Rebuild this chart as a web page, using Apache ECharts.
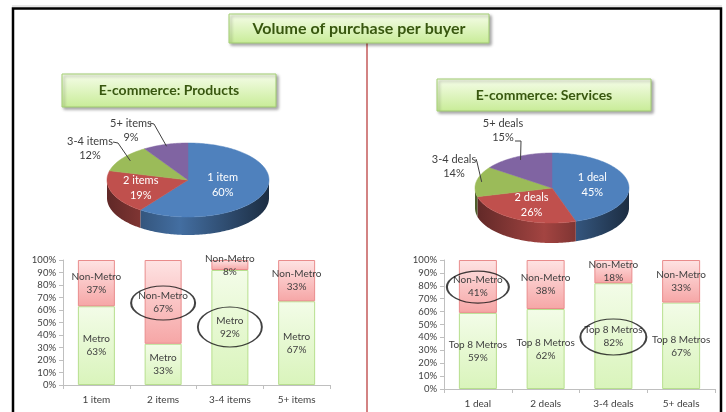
<!DOCTYPE html>
<html><head><meta charset="utf-8">
<script src="https://cdn.jsdelivr.net/npm/echarts@6/dist/echarts.min.js"></script>
<style>html,body{margin:0;padding:0;background:#fff}#c{width:726px;height:412px}</style>
</head><body><div id="c"></div>
<script>
// ---------- data ----------
const productCats = ['1 item', '2 items', '3-4 items', '5+ items'];
const productShare = [60, 19, 12, 9];
const productMetro = [63, 33, 92, 67];
const productNonMetro = [37, 67, 8, 33];
const productCircled = [['2 items', 65.6], ['3-4 items', 46.4]];

const serviceCats = ['1 deal', '2 deals', '3-4 deals', '5+ deals'];
const serviceShare = [45, 26, 14, 15];
const serviceMetro = [59, 62, 82, 67];
const serviceNonMetro = [41, 38, 18, 33];
const serviceCircled = [['1 deal', 79], ['3-4 deals', 40.3]];

const titleMain = 'Volume of purchase per buyer';
const titleProducts = 'E-commerce: Products';
const titleServices = 'E-commerce: Services';

// ---------- styles ----------
const FONT = 'Lato, "Open Sans", sans-serif';
const TXT = '#404040';
const pieColors = ['#4f81bd', '#c0504d', '#9bbb59', '#8064a2'];

function shade(hex, f) {
  const n = parseInt(hex.slice(1), 16);
  const r = Math.round(((n >> 16) & 255) * f), g = Math.round(((n >> 8) & 255) * f), b = Math.round((n & 255) * f);
  return 'rgb(' + r + ',' + g + ',' + b + ')';
}

function pie3D(cats, vals, g) {
  const total = vals.reduce((a, b) => a + b, 0);
  const starts = []; let acc = 0;
  vals.forEach(v => { starts.push(acc); acc += v; });
  return {
    type: 'custom', coordinateSystem: 'none', silent: true,
    data: vals.map((v, i) => [v, starts[i]]),
    renderItem(params, api) {
      const i = params.dataIndex, v = api.value(0), s = api.value(1);
      const a1 = s / total * 2 * Math.PI, a2 = (s + v) / total * 2 * Math.PI;
      const pt = (a, f, dy) => [g.cx + g.rx * f * Math.sin(a), g.cy - g.ry * f * Math.cos(a) + (dy || 0)];
      const arc = (from, to, dy) => {
        const n = Math.max(2, Math.ceil((to - from) / 0.02)); const out = [];
        for (let k = 0; k <= n; k++) out.push(pt(from + (to - from) * k / n, 1, dy));
        return out;
      };
      const base = pieColors[i];
      const children = [];
      const lo = Math.max(a1, Math.PI / 2), hi = Math.min(a2, 1.5 * Math.PI);
      if (hi > lo) {
        const top = arc(lo, hi, 0), bot = arc(lo, hi, g.h).reverse();
        children.push({
          type: 'polygon', shape: { points: top.concat(bot) },
          style: {
            fill: new echarts.graphic.LinearGradient(g.cx - g.rx, 0, g.cx + g.rx, 0, [
              { offset: 0, color: shade(base, 0.5) }, { offset: 0.45, color: shade(base, 0.85) },
              { offset: 1, color: shade(base, 0.35) }], true),
            stroke: null
          }
        });
      }
      children.push({
        type: 'polygon', shape: { points: [[g.cx, g.cy]].concat(arc(a1, a2, 0)) },
        style: { fill: base, stroke: base, lineWidth: 0.5 }
      });
      const lab = g.labels[i];
      const mid = (a1 + a2) / 2;
      const text = cats[i] + '\n' + v + '%';
      if (lab.inside) {
        const p = pt(mid, lab.f, 0);
        children.push({ type: 'text', style: { text, x: p[0], y: p[1], fill: '#fff', fontSize: 11, fontFamily: FONT, align: 'center', verticalAlign: 'middle', lineHeight: 15 } });
      } else {
        const p = pt(mid, lab.f, 0);
        children.push({ type: 'polyline', shape: { points: [lab.start, lab.knee, p] }, style: { stroke: '#404040', lineWidth: 1, fill: null } });
        children.push({ type: 'text', style: { text, x: lab.tx, y: lab.ty, fill: TXT, fontSize: 11, fontFamily: FONT, align: 'center', verticalAlign: 'middle', lineHeight: 14 } });
      }
      return { type: 'group', children };
    }
  };
}

function barAxes(cats, gi) {
  return {
    x: {
      type: 'category', gridIndex: gi, data: cats,
      axisLine: { lineStyle: { color: '#bfbfbf' } },
      axisTick: { show: true, length: 4, lineStyle: { color: '#bfbfbf' } },
      axisLabel: { color: TXT, fontSize: 10, fontFamily: FONT, margin: 10 }
    },
    y: {
      type: 'value', gridIndex: gi, min: 0, max: 100, interval: 10,
      axisLine: { show: true, lineStyle: { color: '#bfbfbf' } },
      axisTick: { show: true, length: 4, lineStyle: { color: '#bfbfbf' } },
      splitLine: { show: false },
      axisLabel: { color: TXT, fontSize: 9.5, fontFamily: FONT, margin: 7, formatter: '{value}%' }
    }
  };
}

const greenFill = new echarts.graphic.LinearGradient(0, 0, 0, 1, [{ offset: 0, color: '#f3fce8' }, { offset: 1, color: '#d9f4bb' }]);
const pinkFill = new echarts.graphic.LinearGradient(0, 0, 0, 1, [{ offset: 0, color: '#fee3e3' }, { offset: 1, color: '#f6a6a6' }]);

function barSeries(gi, name, vals, fill, border, bw) {
  return {
    type: 'bar', name, xAxisIndex: gi, yAxisIndex: gi, stack: 's' + gi, data: vals, barWidth: bw,
    itemStyle: { color: fill, borderColor: border, borderWidth: 1 },
    label: { show: true, position: 'inside', formatter: p => p.seriesName + '\n' + p.value + '%', color: TXT, fontSize: 10, fontFamily: FONT, lineHeight: 13 },
    silent: true
  };
}

function circleSeries(gi, pts, sizes) {
  return {
    type: 'scatter', xAxisIndex: gi, yAxisIndex: gi, z: 10, silent: true,
    data: pts.map(p => [p[0], p[1]]),
    symbol: 'circle',
    symbolSize: (val, params) => sizes[params.dataIndex],
    itemStyle: { color: 'rgba(0,0,0,0)', borderColor: '#111', borderWidth: 1.5 }
  };
}

function box(x, y, w, h, text, fs) {
  return [
    {
      type: 'rect', shape: { x, y, width: w, height: h }, z: 5,
      style: {
        fill: new echarts.graphic.LinearGradient(0, 0, 0, 1, [{ offset: 0, color: '#f6fdea' }, { offset: 1, color: '#c8ec97' }]),
        stroke: '#a3cf73', lineWidth: 1, shadowBlur: 3, shadowOffsetX: 2, shadowOffsetY: 2, shadowColor: 'rgba(0,0,0,0.35)'
      }
    },
    {
      type: 'text', z: 6, style: { text, x: x + w / 2, y: y + h / 2, align: 'center', verticalAlign: 'middle', fill: '#38570f', fontSize: fs, fontWeight: 'bold', fontFamily: FONT }
    }
  ];
}

const pa = barAxes(productCats, 0), sa = barAxes(serviceCats, 1);

const option = {
  backgroundColor: '#fff',
  animation: false,
  grid: [
    { left: 63, top: 260, width: 267, height: 125 },
    { left: 444, top: 260, width: 271, height: 129 }
  ],
  xAxis: [pa.x, sa.x],
  yAxis: [pa.y, sa.y],
  series: [
    barSeries(0, 'Metro', productMetro, greenFill, '#b7df8e', 37),
    barSeries(0, 'Non-Metro', productNonMetro, pinkFill, '#e98c8c', 37),
    barSeries(1, 'Top 8 Metros', serviceMetro, greenFill, '#b7df8e', 38),
    barSeries(1, 'Non-Metro', serviceNonMetro, pinkFill, '#e98c8c', 38),
    circleSeries(0, productCircled, [[64, 34], [64, 40]]),
    circleSeries(1, serviceCircled, [[62, 32], [66, 36]]),
    pie3D(productCats, productShare, {
      cx: 188, cy: 180, rx: 81, ry: 37, h: 18,
      labels: [
        { inside: true, f: 0.45 },
        { inside: true, f: 0.62 },
        { f: 0.88, start: [113, 142], knee: [118, 143], tx: 90, ty: 148 },
        { f: 0.95, start: [150, 123], knee: [154, 124], tx: 131, ty: 130 }
      ]
    }),
    pie3D(serviceCats, serviceShare, {
      cx: 552, cy: 188, rx: 77, ry: 35, h: 20,
      labels: [
        { inside: true, f: 0.53 },
        { inside: true, f: 0.55 },
        { f: 0.93, start: [476, 159], knee: [477, 162], tx: 454, ty: 166 },
        { f: 0.9, start: [515, 141], knee: [521, 141], tx: 503, ty: 130 }
      ]
    })
  ],
  graphic: [
    { type: 'line', shape: { x1: 12, y1: 6, x2: 722, y2: 6 }, style: { stroke: '#cfcfcf', lineWidth: 1 } },
    { type: 'polyline', shape: { points: [[13, 412], [13, 8.5], [721, 8.5], [721, 412]] }, style: { stroke: '#000', lineWidth: 2.5, fill: null } },
    { type: 'line', shape: { x1: 367, y1: 43, x2: 367, y2: 412 }, style: { stroke: '#c55a5a', lineWidth: 1.5 } },
    ...box(229, 14, 260, 29, titleMain, 16),
    ...box(62, 74, 214, 33, titleProducts, 14),
    ...box(437, 79, 214, 32, titleServices, 14)
  ]
};

const chart = echarts.init(document.getElementById('c'), null, { renderer: 'canvas' });
chart.setOption(option);
</script></body></html>
